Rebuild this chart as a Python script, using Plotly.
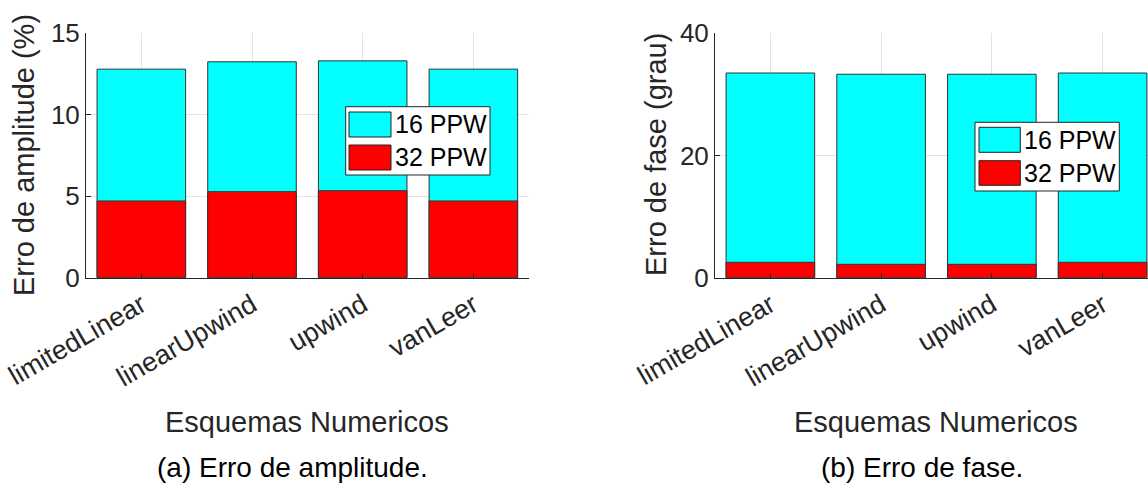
import plotly.graph_objects as go

# Numerical schemes compared
schemes = ["limitedLinear", "linearUpwind", "upwind", "vanLeer"]

# Amplitude error (%)
amp_16ppw = [12.8, 13.25, 13.31, 12.8]
amp_32ppw = [4.71, 5.28, 5.34, 4.71]

# Phase error (degrees)
phase_16ppw = [33.5, 33.3, 33.3, 33.5]
phase_32ppw = [2.52, 2.19, 2.19, 2.52]

series_names = ["16 PPW", "32 PPW"]
amp_ticks = [0, 5, 10, 15]
phase_ticks = [0, 20, 40]

W, H = 1148, 489
FONT = "Liberation Sans, Arial, Helvetica, sans-serif"
DARK = "#262626"
CYAN = "#00FFFF"
RED = "#FF0000"
EDGE = "#333333"


def px(x):
    return x / W


def py(y):
    return 1 - y / H


fig = go.Figure()

for xa, ya, s16, s32 in [("x", "y", amp_16ppw, amp_32ppw),
                         ("x2", "y2", phase_16ppw, phase_32ppw)]:
    fig.add_trace(go.Bar(x=schemes, y=s16, name=series_names[0], width=0.8,
                         marker=dict(color=CYAN, line=dict(color=EDGE, width=1)),
                         xaxis=xa, yaxis=ya, showlegend=False))
    fig.add_trace(go.Bar(x=schemes, y=s32, name=series_names[1], width=0.8,
                         marker=dict(color=RED, line=dict(color=EDGE, width=1)),
                         xaxis=xa, yaxis=ya, showlegend=False))

axis_common = dict(
    automargin=False,
    showgrid=True, gridcolor="#e3e3e3", gridwidth=1,
    showline=True, linecolor=DARK, linewidth=1,
    ticks="inside", ticklen=5, tickcolor=DARK,
    zeroline=False,
)
xfont = dict(family=FONT, size=27, color=DARK)
yfont = dict(family=FONT, size=26, color=DARK)

ydom = [py(277.7), py(33.3)]

fig.update_layout(
    width=W, height=H,
    margin=dict(l=0, r=0, t=0, b=0, autoexpand=False),
    paper_bgcolor="white", plot_bgcolor="white",
    barmode="overlay",
    font=dict(family=FONT, color=DARK),
    xaxis=dict(domain=[px(86), px(528.7)], anchor="y", range=[-0.5, 3.5],
               tickangle=-30, tickfont=xfont, **axis_common),
    yaxis=dict(domain=ydom, anchor="x", range=[0, 15], tickvals=amp_ticks,
               tickfont=yfont, **axis_common),
    xaxis2=dict(domain=[px(715), 1.0], anchor="y2", range=[-0.5, 3.41],
                tickangle=-30, tickfont=xfont, **axis_common),
    yaxis2=dict(domain=ydom, anchor="x2", range=[0, 40], tickvals=phase_ticks,
                tickfont=yfont, **axis_common),
)

ann = []
shapes = []

# Axis titles
for x, txt in [(307, "Esquemas Numericos"), (936, "Esquemas Numericos")]:
    ann.append(dict(x=px(x), y=py(422), xref="paper", yref="paper",
                    text=txt, showarrow=False, xanchor="center", yanchor="middle",
                    font=dict(family=FONT, size=29, color=DARK)))
for x, txt in [(24, "Erro de amplitude (%)"), (656, "Erro de fase (grau)")]:
    ann.append(dict(x=px(x), y=py(155), xref="paper", yref="paper",
                    text=txt, textangle=-90, showarrow=False,
                    xanchor="center", yanchor="middle",
                    font=dict(family=FONT, size=29, color=DARK)))

# Sub-figure captions
for x, txt in [(292, "(a) Erro de amplitude."), (922, "(b) Erro de fase.")]:
    ann.append(dict(x=px(x), y=py(467), xref="paper", yref="paper",
                    text=txt, showarrow=False, xanchor="center", yanchor="middle",
                    font=dict(family=FONT, size=28, color="black")))

# Legend boxes with large swatches
legends = [
    dict(box=(345.7, 106.7, 490, 175),
         sw=[(349, 112, 391, 137), (349, 145, 391, 170)], tx=393),
    dict(box=(975, 122.3, 1119.3, 191),
         sw=[(979, 127.3, 1020.3, 152.3), (979, 160.7, 1020.3, 185.3)], tx=1022),
]
for lg in legends:
    x0, y0, x1, y1 = lg["box"]
    shapes.append(dict(type="rect", xref="paper", yref="paper",
                       x0=px(x0), x1=px(x1), y0=py(y1), y1=py(y0),
                       fillcolor="white", line=dict(color=DARK, width=1)))
    for (sx0, sy0, sx1, sy1), col, name in zip(lg["sw"], [CYAN, RED], series_names):
        shapes.append(dict(type="rect", xref="paper", yref="paper",
                           x0=px(sx0), x1=px(sx1), y0=py(sy1), y1=py(sy0),
                           fillcolor=col, line=dict(color="#222222", width=1)))
        ann.append(dict(x=px(lg["tx"]), y=py((sy0 + sy1) / 2), xref="paper",
                        yref="paper", text=name, showarrow=False,
                        xanchor="left", yanchor="middle",
                        font=dict(family=FONT, size=25, color="black")))

fig.update_layout(annotations=ann, shapes=shapes)

fig.write_html("out.html")
